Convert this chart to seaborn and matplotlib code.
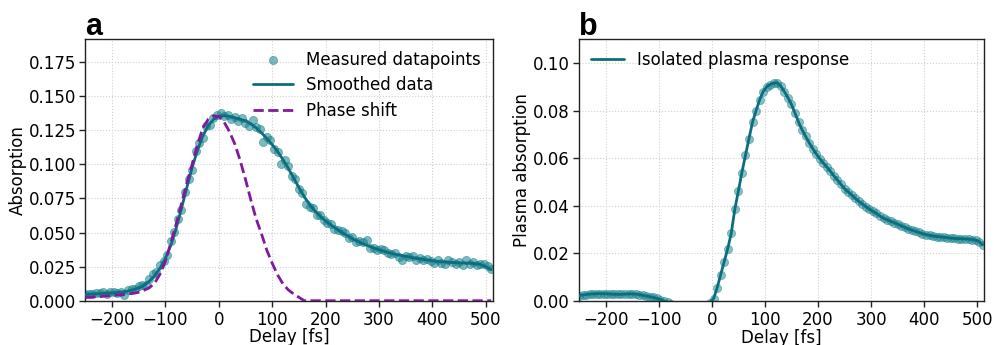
import numpy as np
import pandas as pd
import matplotlib
matplotlib.use("Agg")
import matplotlib.pyplot as plt
import seaborn as sns

# ---------------- data ----------------
# measurement delays (fs), one stage step = 20/3 fs
delay_fs = np.round(-250 + np.arange(115) * 20 / 3, 2)

# panel a: measured absorption
absorption_measured = [
    0.0048, 0.0052, 0.0046, 0.0058, 0.0055, 0.0062, 0.0051, 0.0063, 0.0061, 0.0057,
    0.0066, 0.0040, 0.0078, 0.0088, 0.0086, 0.0108, 0.0118, 0.0117, 0.0162, 0.0198,
    0.0212, 0.0262, 0.0290, 0.0335, 0.0440, 0.0505, 0.0602, 0.0668, 0.0800, 0.0890,
    0.0962, 0.1100, 0.1160, 0.1195, 0.1282, 0.1288, 0.1340, 0.1362, 0.1378, 0.1352,
    0.1365, 0.1330, 0.1350, 0.1318, 0.1342, 0.1300, 0.1285, 0.1322, 0.1275, 0.1262,
    0.1165, 0.1198, 0.1178, 0.1112, 0.1092, 0.1005, 0.1030, 0.0985, 0.0912, 0.0895,
    0.0818, 0.0790, 0.0712, 0.0688, 0.0680, 0.0628, 0.0632, 0.0592, 0.0570, 0.0565,
    0.0528, 0.0522, 0.0510, 0.0495, 0.0462, 0.0465, 0.0432, 0.0436, 0.0432, 0.0445,
    0.0384, 0.0390, 0.0372, 0.0376, 0.0372, 0.0350, 0.0342, 0.0352, 0.0322, 0.0300,
    0.0330, 0.0318, 0.0325, 0.0302, 0.0312, 0.0298, 0.0305, 0.0290, 0.0278, 0.0296,
    0.0280, 0.0270, 0.0295, 0.0285, 0.0266, 0.0284, 0.0262, 0.0300, 0.0270, 0.0285,
    0.0262, 0.0272, 0.0266, 0.0252, 0.0230,
]

# panel a: smoothed absorption and phase-shift contribution on a 10 fs grid
delay_smooth_fs = np.arange(-250, 511, 10)
absorption_smoothed = [
    0.0045, 0.0048, 0.0051, 0.0053, 0.0055, 0.0057, 0.0060, 0.0065, 0.0071, 0.0080,
    0.0093, 0.0113, 0.0143, 0.0184, 0.0238, 0.0310, 0.0405, 0.0528, 0.0675, 0.0828,
    0.0975, 0.1103, 0.1207, 0.1283, 0.1330, 0.1353, 0.1358, 0.1352, 0.1342, 0.1331,
    0.1319, 0.1297, 0.1268, 0.1232, 0.1190, 0.1145, 0.1095, 0.1037, 0.0972, 0.0902,
    0.0830, 0.0763, 0.0706, 0.0658, 0.0620, 0.0585, 0.0556, 0.0528, 0.0502, 0.0478,
    0.0455, 0.0436, 0.0418, 0.0402, 0.0387, 0.0374, 0.0362, 0.0351, 0.0341, 0.0333,
    0.0326, 0.0318, 0.0311, 0.0305, 0.0299, 0.0293, 0.0288, 0.0285, 0.0282, 0.0280,
    0.0277, 0.0276, 0.0275, 0.0272, 0.0266, 0.0250, 0.0228,
]
phase_shift = [
    0.0025, 0.0026, 0.0029, 0.0031, 0.0035, 0.0038, 0.0042, 0.0045, 0.0049, 0.0054,
    0.0062, 0.0077, 0.0095, 0.0130, 0.0195, 0.0290, 0.0420, 0.0560, 0.0710, 0.0860,
    0.1000, 0.1145, 0.1265, 0.1330, 0.1355, 0.1352, 0.1310, 0.1240, 0.1150, 0.1030,
    0.0890, 0.0740, 0.0600, 0.0490, 0.0370, 0.0275, 0.0190, 0.0125, 0.0080, 0.0050,
    0.0025, 0.0000, 0.0000, 0.0000, 0.0000, 0.0000, 0.0000, 0.0000, 0.0000, 0.0000,
    0.0000, 0.0000, 0.0000, 0.0000, 0.0000, 0.0000, 0.0000, 0.0000, 0.0000, 0.0000,
    0.0000, 0.0000, 0.0000, 0.0000, 0.0000, 0.0000, 0.0000, 0.0000, 0.0000, 0.0000,
    0.0000, 0.0000, 0.0000, 0.0000, 0.0000, 0.0000, 0.0000,
]

# panel b: isolated plasma response
plasma_absorption = [
    0.0022, 0.0025, 0.0027, 0.0029, 0.0030, 0.0031, 0.0031, 0.0031, 0.0030, 0.0029,
    0.0028, 0.0028, 0.0028, 0.0029, 0.0030, 0.0030, 0.0029, 0.0027, 0.0024, 0.0021,
    0.0018, 0.0015, 0.0011, 0.0006, 0.0000, -0.0006, -0.0012, -0.0017, -0.0021, -0.0024,
    -0.0026, -0.0027, -0.0027, -0.0026, -0.0024, -0.0020, -0.0015, -0.0008, 0.0010, 0.0055,
    0.0110, 0.0165, 0.0220, 0.0285, 0.0385, 0.0462, 0.0540, 0.0612, 0.0682, 0.0752,
    0.0800, 0.0845, 0.0880, 0.0900, 0.0910, 0.0916, 0.0917, 0.0903, 0.0880, 0.0855,
    0.0826, 0.0790, 0.0752, 0.0720, 0.0692, 0.0665, 0.0641, 0.0618, 0.0598, 0.0580,
    0.0563, 0.0545, 0.0526, 0.0508, 0.0490, 0.0472, 0.0459, 0.0446, 0.0432, 0.0419,
    0.0408, 0.0397, 0.0386, 0.0377, 0.0368, 0.0357, 0.0348, 0.0342, 0.0335, 0.0329,
    0.0323, 0.0316, 0.0310, 0.0303, 0.0298, 0.0293, 0.0288, 0.0283, 0.0279, 0.0276,
    0.0273, 0.0271, 0.0270, 0.0268, 0.0266, 0.0264, 0.0263, 0.0262, 0.0262, 0.0261,
    0.0260, 0.0258, 0.0256, 0.0250, 0.0236,
]

xticks_fs = [-200, -100, 0, 100, 200, 300, 400, 500]
yticks_a = [0.000, 0.025, 0.050, 0.075, 0.100, 0.125, 0.150, 0.175]
yticks_b = [0.00, 0.02, 0.04, 0.06, 0.08, 0.10]

# ---------------- style ----------------
sns.set_theme(style="ticks")
plt.rcParams.update({
    "font.family": ["DejaVu Sans"],
    "font.size": 12,
    "text.color": "black",
    "axes.labelcolor": "black",
    "axes.edgecolor": "#222222",
    "axes.linewidth": 1.0,
    "xtick.color": "#222222",
    "ytick.color": "#222222",
    "xtick.labelcolor": "black",
    "ytick.labelcolor": "black",
    "xtick.labelsize": 12,
    "ytick.labelsize": 12,
    "axes.labelsize": 12,
    "legend.fontsize": 12,
})

TEAL = "#0b6e7e"
TEAL_PTS = "#14808c"
PURPLE = "#8318a0"

df_meas = pd.DataFrame({"delay": delay_fs, "abs": absorption_measured})
df_smooth = pd.DataFrame({"delay": delay_smooth_fs, "abs": absorption_smoothed,
                          "phase": phase_shift})
df_plasma = pd.DataFrame({"delay": delay_fs, "abs": plasma_absorption})

fig = plt.figure(figsize=(9.94, 3.45), dpi=100)
ax_a = fig.add_axes([0.0858, 0.1284, 0.4099, 0.7586])
ax_b = fig.add_axes([0.5825, 0.1275, 0.4077, 0.7586])

# ---- panel a ----
sns.scatterplot(data=df_meas, x="delay", y="abs", ax=ax_a, color=TEAL_PTS,
                alpha=0.55, s=34, edgecolor=TEAL_PTS, linewidth=0.6,
                label="Measured datapoints", zorder=2)
sns.lineplot(data=df_smooth, x="delay", y="abs", ax=ax_a, color=TEAL,
             linewidth=2.0, label="Smoothed data", zorder=3)
sns.lineplot(data=df_smooth, x="delay", y="phase", ax=ax_a, color=PURPLE,
             linewidth=2.0, linestyle="--", label="Phase shift", zorder=3)
ax_a.set_xlim(-250, 513)
ax_a.set_ylim(0, 0.192)
ax_a.set_xticks(xticks_fs)
ax_a.set_yticks(yticks_a)
ax_a.set_yticklabels([f"{v:.3f}" for v in yticks_a])
ax_a.set_xlabel("Delay [fs]", labelpad=-0.5)
ax_a.set_ylabel("Absorption", labelpad=1.5)
ax_a.legend(loc="upper right", frameon=False, handlelength=2.4,
            borderaxespad=0.3, labelspacing=0.45)

# ---- panel b ----
sns.scatterplot(data=df_plasma, x="delay", y="abs", ax=ax_b, color=TEAL_PTS,
                alpha=0.5, s=34, edgecolor=TEAL_PTS, linewidth=0.6,
                legend=False, zorder=2)
sns.lineplot(data=df_plasma, x="delay", y="abs", ax=ax_b, color=TEAL,
             linewidth=2.0, label="Isolated plasma response", zorder=3)
ax_b.set_xlim(-250, 513)
ax_b.set_ylim(0, 0.110)
ax_b.set_xticks(xticks_fs)
ax_b.set_yticks(yticks_b)
ax_b.set_yticklabels([f"{v:.2f}" for v in yticks_b])
ax_b.set_xlabel("Delay [fs]", labelpad=-0.5)
ax_b.set_ylabel("Plasma absorption", labelpad=1.5)
ax_b.legend(loc="upper left", frameon=False, handlelength=2.0,
            borderaxespad=0.3)

for ax, tag in ((ax_a, "a"), (ax_b, "b")):
    ax.grid(True, linestyle=":", color="#d0d0d0", linewidth=0.8)
    ax.set_axisbelow(True)
    for sp in ax.spines.values():
        sp.set_visible(True)
    ax.tick_params(direction="out", length=4, width=1)
    ax.tick_params(axis="x", pad=3.5)
    ax.tick_params(axis="y", pad=2.5)
    ax.text(0.0, 1.015, tag, transform=ax.transAxes, fontsize=22,
            fontweight="bold", family=["Liberation Sans", "DejaVu Sans"],
            ha="left", va="baseline", color="black")

fig.savefig("out.png", dpi=100)
